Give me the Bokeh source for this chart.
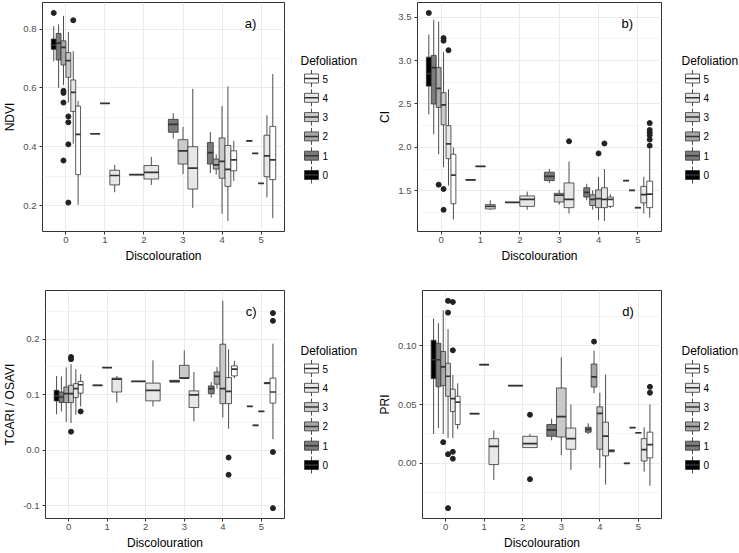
from bokeh.plotting import figure
from bokeh.models import ColumnDataSource, Range1d, FixedTicker, PrintfTickFormatter, Label
from bokeh.layouts import row, column
from bokeh.embed import file_html
from bokeh.resources import INLINE
from bokeh.core.properties import value

FONT = "Liberation Sans"

# ---------------- data ----------------
DISC_TICKS = [0, 1, 2, 3, 4, 5]
DEFOL_LEVELS = [0, 1, 2, 3, 4, 5]
DEFOL_COLORS = ["#000000", "#7B7B7B", "#A8A8A8", "#CACACA", "#E7E7E7", "#FFFFFF"]

# one entry per box: discolouration class and defoliation class
BOX_DISC = [0, 0, 0, 0, 0, 0, 1, 1, 1, 2, 2, 3, 3, 3, 4, 4, 4, 4, 4, 5, 5, 5, 5, 5]
BOX_DEFOL = [0, 1, 2, 3, 4, 5, 2, 3, 4, 3, 4, 1, 3, 4, 1, 2, 3, 4, 5, 1, 2, 3, 4, 5]

# NDVI box statistics
NDVI_LW = [0.69, 0.60, 0.61, 0.55, 0.41, 0.203, 0.444, 0.547, 0.245, 0.305, 0.27, 0.428, 0.307, 0.192,
           0.31, 0.305, 0.172, 0.147, 0.284, 0.42, 0.377, 0.275, 0.228, 0.157]
NDVI_Q1 = [0.731, 0.695, 0.678, 0.636, 0.52, 0.305, 0.444, 0.547, 0.27, 0.305, 0.29, 0.449, 0.341, 0.256,
           0.341, 0.324, 0.293, 0.265, 0.318, 0.42, 0.377, 0.275, 0.298, 0.288]
NDVI_MED = [0.745, 0.752, 0.738, 0.693, 0.585, 0.442, 0.444, 0.547, 0.302, 0.305, 0.313, 0.476, 0.386, 0.327,
            0.38, 0.338, 0.35, 0.323, 0.355, 0.42, 0.377, 0.275, 0.369, 0.355]
NDVI_Q3 = [0.766, 0.785, 0.76, 0.72, 0.627, 0.538, 0.444, 0.547, 0.32, 0.305, 0.336, 0.493, 0.424, 0.40,
           0.414, 0.358, 0.43, 0.404, 0.386, 0.42, 0.377, 0.275, 0.439, 0.469]
NDVI_UW = [0.81, 0.816, 0.845, 0.79, 0.725, 0.555, 0.444, 0.547, 0.338, 0.305, 0.365, 0.514, 0.467, 0.597,
           0.45, 0.374, 0.538, 0.605, 0.42, 0.42, 0.377, 0.275, 0.507, 0.647]
NDVI_OUT_DISC = [0, 0, 0, 0, 0, 0, 0, 0, 0, 0]
NDVI_OUT_DEFOL = [0, 2, 2, 2, 2, 3, 3, 3, 3, 4]
NDVI_OUT_VAL = [0.855, 0.59, 0.583, 0.55, 0.353, 0.503, 0.483, 0.408, 0.21, 0.83]

# CI box statistics
CI_LW = [2.38, 2.15, 1.92, 1.77, 1.56, 1.17, 1.626, 1.78, 1.28, 1.365, 1.28, 1.59, 1.34, 1.237,
         1.39, 1.282, 1.16, 1.15, 1.30, 1.617, 1.504, 1.305, 1.237, 1.19]
CI_Q1 = [2.706, 2.50, 2.46, 2.26, 1.87, 1.35, 1.626, 1.78, 1.29, 1.365, 1.32, 1.617, 1.37, 1.305,
         1.427, 1.33, 1.305, 1.305, 1.32, 1.617, 1.504, 1.305, 1.36, 1.305]
CI_MED = [2.85, 2.92, 2.68, 2.49, 2.04, 1.68, 1.626, 1.78, 1.32, 1.365, 1.40, 1.665, 1.45, 1.40,
          1.48, 1.40, 1.41, 1.40, 1.40, 1.617, 1.504, 1.305, 1.455, 1.46]
CI_Q3 = [3.04, 3.06, 2.92, 2.63, 2.25, 1.92, 1.626, 1.78, 1.34, 1.365, 1.44, 1.714, 1.47, 1.59,
         1.534, 1.454, 1.51, 1.534, 1.427, 1.617, 1.504, 1.305, 1.55, 1.61]
CI_UW = [3.30, 3.47, 3.45, 3.10, 2.67, 2.0, 1.626, 1.78, 1.39, 1.365, 1.49, 1.75, 1.51, 1.836,
         1.58, 1.504, 1.66, 1.75, 1.46, 1.617, 1.504, 1.305, 1.66, 1.98]
CI_OUT_DISC = [0, 0, 0, 0, 0, 0, 0, 3, 4, 4, 5, 5, 5, 5, 5, 5]
CI_OUT_DEFOL = [0, 2, 3, 3, 3, 3, 4, 4, 3, 4, 5, 5, 5, 5, 5, 5]
CI_OUT_VAL = [3.55, 1.57, 3.26, 3.23, 1.52, 1.28, 3.12, 2.07, 1.93, 2.045, 2.28, 2.20, 2.17, 2.14, 2.09, 2.02]

# TCARI / OSAVI box statistics
TO_LW = [0.065, 0.07, 0.051, 0.049, 0.064, 0.079, 0.117, 0.149, 0.086, 0.124, 0.079, 0.123, 0.13, 0.052,
         0.095, 0.111, 0.059, 0.039, 0.13, 0.079, 0.045, 0.07, 0.119, 0.02]
TO_Q1 = [0.089, 0.086, 0.086, 0.086, 0.095, 0.103, 0.117, 0.149, 0.105, 0.124, 0.089, 0.123, 0.13, 0.077,
         0.102, 0.119, 0.084, 0.084, 0.134, 0.079, 0.045, 0.07, 0.12, 0.085]
TO_MED = [0.098, 0.096, 0.102, 0.102, 0.111, 0.118, 0.117, 0.149, 0.128, 0.124, 0.108, 0.124, 0.13, 0.10,
          0.111, 0.133, 0.111, 0.106, 0.146, 0.079, 0.045, 0.07, 0.121, 0.105]
TO_Q3 = [0.108, 0.105, 0.114, 0.117, 0.12, 0.124, 0.117, 0.149, 0.13, 0.124, 0.121, 0.126, 0.153, 0.107,
         0.116, 0.141, 0.191, 0.131, 0.152, 0.079, 0.045, 0.07, 0.122, 0.13]
TO_UW = [0.134, 0.133, 0.149, 0.155, 0.146, 0.137, 0.117, 0.149, 0.134, 0.124, 0.162, 0.126, 0.18, 0.141,
         0.123, 0.15, 0.269, 0.182, 0.161, 0.079, 0.045, 0.07, 0.123, 0.192]
TO_OUT_DISC = [0, 0, 0, 0, 4, 4, 5, 5, 5, 5]
TO_OUT_DEFOL = [3, 3, 3, 5, 4, 4, 5, 5, 5, 5]
TO_OUT_VAL = [0.168, 0.164, 0.0336, 0.07, -0.013, -0.044, 0.247, 0.233, -0.003, -0.104]

# PRI box statistics
PRI_LW = [0.025, 0.030, 0.025, 0.0215, 0.0215, 0.029, 0.0422, 0.0838, -0.014, 0.066, 0.0134, 0.0196, 0.007, -0.0056,
          0.025, 0.0595, -0.004, -0.018, 0.0098, 0.0, 0.0304, 0.026, -0.007, -0.019]
PRI_Q1 = [0.072, 0.065, 0.066, 0.057, 0.044, 0.033, 0.0422, 0.0838, -0.001, 0.066, 0.0134, 0.023, 0.0224, 0.012,
          0.0265, 0.0648, 0.012, 0.0064, 0.0098, 0.0, 0.0304, 0.026, 0.002, 0.0047]
PRI_MED = [0.088, 0.088, 0.082, 0.074, 0.055, 0.052, 0.0422, 0.0838, 0.0145, 0.066, 0.0168, 0.0285, 0.0397, 0.021,
           0.0288, 0.0735, 0.0425, 0.0232, 0.0106, 0.0, 0.0304, 0.026, 0.0117, 0.016]
PRI_Q3 = [0.1045, 0.102, 0.095, 0.085, 0.063, 0.057, 0.0422, 0.0838, 0.021, 0.066, 0.023, 0.033, 0.064, 0.030,
          0.0307, 0.0844, 0.048, 0.035, 0.0115, 0.0, 0.0304, 0.026, 0.021, 0.0265]
PRI_UW = [0.123, 0.119, 0.13, 0.114, 0.075, 0.068, 0.0422, 0.0838, 0.028, 0.066, 0.025, 0.038, 0.09, 0.05,
          0.034, 0.0958, 0.06, 0.0754, 0.0115, 0.0, 0.0304, 0.026, 0.0307, 0.05]
PRI_OUT_DISC = [0, 0, 0, 0, 0, 0, 0, 0, 0, 2, 2, 4, 5, 5]
PRI_OUT_DEFOL = [2, 3, 3, 3, 3, 4, 4, 4, 4, 4, 4, 2, 5, 5]
PRI_OUT_VAL = [0.018, 0.138, 0.128, 0.0078, -0.038, 0.137, 0.096, 0.0098, 0.004, 0.0413, -0.0134, 0.1034, 0.065, 0.06]

DODGE = 0.75


def dodge_pos(disc, defol):
    members = sorted(f for d, f in zip(BOX_DISC, BOX_DEFOL) if d == disc)
    n = len(members)
    w = DODGE / n
    k = members.index(defol)
    return disc - DODGE / 2 + (k + 0.5) * w, w


def style_axis(ax):
    ax.axis_line_color = None
    ax.major_tick_line_color = "#333333"
    ax.major_tick_out = 3
    ax.major_tick_in = 0
    ax.minor_tick_line_color = None
    ax.major_label_text_font = FONT
    ax.major_label_text_font_size = "9.5px"
    ax.major_label_text_color = "#4d4d4d"
    ax.major_label_standoff = 2
    ax.axis_label_text_font = FONT
    ax.axis_label_text_font_size = "12px"
    ax.axis_label_text_font_style = "normal"
    ax.axis_label_text_color = "black"
    ax.axis_label_standoff = 3


def make_panel(lw, q1, med, q3, uw, out_disc, out_defol, out_val, ylabel, tag,
               major, minor, fmt, width, height, mb_left, mb_top, mb_bottom):
    lo = min(min(lw), min(out_val))
    hi = max(max(uw), max(out_val))
    pad = 0.05 * (hi - lo)
    ylo, yhi = lo - pad, hi + pad
    p = figure(width=width, height=height, x_range=Range1d(-0.6, 5.6), y_range=Range1d(ylo, yhi),
               output_backend="svg", toolbar_location=None,
               min_border_left=mb_left, min_border_right=4, min_border_top=mb_top,
               min_border_bottom=mb_bottom)
    p.background_fill_color = "white"
    p.border_fill_color = "white"
    p.outline_line_color = "#333333"
    p.outline_line_width = 1

    p.xaxis.ticker = FixedTicker(ticks=DISC_TICKS)
    p.yaxis.ticker = FixedTicker(ticks=major, minor_ticks=minor)
    p.yaxis.formatter = PrintfTickFormatter(format=fmt)
    p.xaxis.axis_label = "Discolouration"
    p.yaxis.axis_label = ylabel
    style_axis(p.xaxis[0])
    style_axis(p.yaxis[0])

    p.xgrid.grid_line_color = "#EBEBEB"
    p.ygrid.grid_line_color = "#EBEBEB"
    p.ygrid.minor_grid_line_color = "#F0F0F0"
    p.ygrid.minor_grid_line_width = 0.8

    xs, ws = zip(*[dodge_pos(d, f) for d, f in zip(BOX_DISC, BOX_DEFOL)])
    src = ColumnDataSource(dict(
        x=list(xs),
        left=[x - w / 2 for x, w in zip(xs, ws)],
        right=[x + w / 2 for x, w in zip(xs, ws)],
        lw=lw, q1=q1, med=med, q3=q3, uw=uw,
        fill=[DEFOL_COLORS[DEFOL_LEVELS.index(f)] for f in BOX_DEFOL],
    ))
    p.segment(x0="x", y0="q3", x1="x", y1="uw", source=src, line_color="#4d4d4d", line_width=1)
    p.segment(x0="x", y0="q1", x1="x", y1="lw", source=src, line_color="#4d4d4d", line_width=1)
    p.quad(left="left", right="right", bottom="q1", top="q3", source=src,
           fill_color="fill", line_color="#333333", line_width=0.8)
    p.segment(x0="left", y0="med", x1="right", y1="med", source=src, line_color="#333333", line_width=1.7)

    ox = [dodge_pos(d, f)[0] for d, f in zip(out_disc, out_defol)]
    p.scatter(ox, out_val, size=5, fill_color="#222222", line_color="#222222")

    p.add_layout(Label(x=-0.6 + 0.86 * 6.2, y=ylo + 0.91 * (yhi - ylo), text=tag,
                       text_font=FONT, text_font_size="13px", text_align="center",
                       text_baseline="middle", text_color="black"))
    return p


def make_legend(width, height, frame_top, frame_h, x0):
    p = figure(frame_width=width, frame_height=height, x_range=Range1d(0, width),
               y_range=Range1d(height, 0), title=None,
               output_backend="svg", toolbar_location=None, x_axis_type=None, y_axis_type=None,
               min_border_left=0, min_border_right=0, min_border_top=0, min_border_bottom=0)
    p.outline_line_color = None
    p.background_fill_color = "white"
    p.border_fill_color = "white"
    p.xgrid.visible = False
    p.ygrid.visible = False
    yc = frame_top + frame_h / 2
    levels = list(reversed(DEFOL_LEVELS))
    ys = [yc - 40.5 + 19.3 * i for i in range(len(levels))]
    kc = x0 + 11
    cols = [DEFOL_COLORS[DEFOL_LEVELS.index(l)] for l in levels]
    src = ColumnDataSource(dict(y=ys, top=[y - 4.5 for y in ys], bot=[y + 4.5 for y in ys],
                                wt=[y - 8.5 for y in ys], wb=[y + 8.5 for y in ys],
                                fill=cols, lab=[str(l) for l in levels]))
    p.segment(x0=kc, y0="wt", x1=kc, y1="wb", source=src, line_color="#4d4d4d", line_width=1)
    p.quad(left=kc - 7, right=kc + 7, top="top", bottom="bot", source=src,
           fill_color="fill", line_color="#333333", line_width=0.8)
    p.segment(x0=kc - 7, y0="y", x1=kc + 7, y1="y", source=src, line_color="#333333", line_width=1.5)
    p.text(x=kc + 11, y="y", text="lab", source=src, text_font=value(FONT),
           text_font_size=value("10px"), text_baseline="middle", text_align="left", text_color="black")
    p.add_layout(Label(x=x0, y=yc - 58.5, text="Defoliation", text_font=FONT, text_font_size="12px",
                       text_baseline="middle", text_align="left", text_color="black"))
    return p


# layout (the page has no margin: the canvas starts at the window's top-left corner)
H1, H2 = 287, 265
pa = make_panel(NDVI_LW, NDVI_Q1, NDVI_MED, NDVI_Q3, NDVI_UW, NDVI_OUT_DISC, NDVI_OUT_DEFOL, NDVI_OUT_VAL,
                "NDVI", "a)", [0.2, 0.4, 0.6, 0.8], [0.3, 0.5, 0.7], "%.1f", 288, H1, 36, 2, 56)
pb = make_panel(CI_LW, CI_Q1, CI_MED, CI_Q3, CI_UW, CI_OUT_DISC, CI_OUT_DEFOL, CI_OUT_VAL,
                "CI", "b)", [1.5, 2.0, 2.5, 3.0, 3.5], [1.25, 1.75, 2.25, 2.75, 3.25], "%.1f", 290, H1, 40, 2, 56)
pc = make_panel(TO_LW, TO_Q1, TO_MED, TO_Q3, TO_UW, TO_OUT_DISC, TO_OUT_DEFOL, TO_OUT_VAL,
                "TCARI / OSAVI", "c)", [-0.1, 0.0, 0.1, 0.2], [-0.05, 0.05, 0.15, 0.25], "%.1f", 288, H2, 39, 3, 31)
pd_ = make_panel(PRI_LW, PRI_Q1, PRI_MED, PRI_Q3, PRI_UW, PRI_OUT_DISC, PRI_OUT_DEFOL, PRI_OUT_VAL,
                 "PRI", "d)", [0.0, 0.05, 0.10], [-0.025, 0.025, 0.075, 0.125], "%.2f", 290, H2, 46, 3, 31)

la = make_legend(87, H1, 2, 229, 12)
lb = make_legend(73, H1, 2, 229, 16)
lc = make_legend(87, H2, 3, 231, 12)
ld = make_legend(73, H2, 3, 231, 16)

layout = column(row(pa, la, pb, lb), row(pc, lc, pd_, ld))

with open("out.html", "w") as f:
    f.write(file_html(layout, INLINE))
